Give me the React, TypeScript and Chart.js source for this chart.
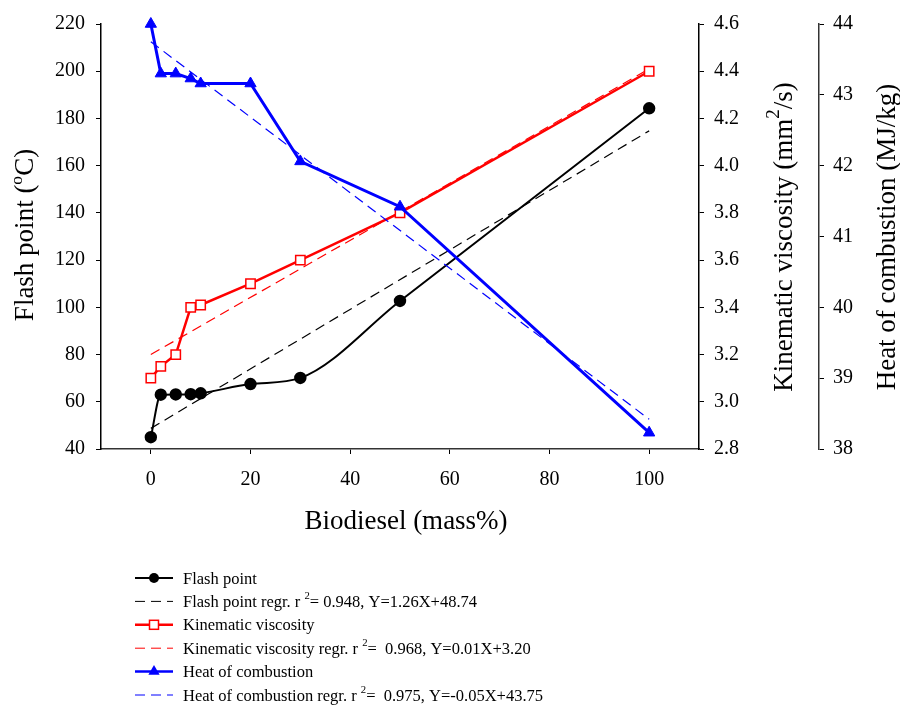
import React, { useEffect, useRef } from 'react';
import { Chart, registerables } from 'chart.js';

Chart.register(...registerables);

// ---- data ----
const blendPct = [0, 2, 5, 8, 10, 20, 30, 50, 100];
const flashPoint = [45, 63, 63.1, 63.2, 63.6, 67.5, 70.1, 102.7, 184.3];
const kinViscosity = [3.1, 3.15, 3.2, 3.4, 3.41, 3.5, 3.6, 3.8, 4.4];
const heatCombustion = [44.0, 43.3, 43.3, 43.23, 43.16, 43.16, 42.06, 41.42, 38.23];

const regrX = [0, 100];
const flashRegr = [48.74, 174.74];
const viscRegr = [3.2, 4.41];
const heatRegr = [43.75, 38.42];

const xTicks = [0, 20, 40, 60, 80, 100];

type Seg = { t: string; sup?: boolean };

const xTitle: Seg[] = [{ t: 'Biodiesel (mass%)' }];
const flashTitle: Seg[] = [{ t: 'Flash point (' }, { t: 'o', sup: true }, { t: 'C)' }];
const viscTitle: Seg[] = [{ t: 'Kinematic viscosity (mm' }, { t: '2', sup: true }, { t: '/s)' }];
const heatTitle: Seg[] = [{ t: 'Heat of combustion (MJ/kg)' }];

const legendLabels: Seg[][] = [
  [{ t: 'Flash point' }],
  [{ t: 'Flash point regr. r ' }, { t: '2', sup: true }, { t: '= 0.948, Y=1.26X+48.74' }],
  [{ t: 'Kinematic viscosity' }],
  [{ t: 'Kinematic viscosity regr. r ' }, { t: '2', sup: true }, { t: '=  0.968, Y=0.01X+3.20' }],
  [{ t: 'Heat of combustion' }],
  [{ t: 'Heat of combustion regr. r ' }, { t: '2', sup: true }, { t: '=  0.975, Y=-0.05X+43.75' }],
];

const SERIF = '"Liberation Serif", "Times New Roman", serif';

function pts(xs: number[], ys: number[]) {
  return xs.map((x, i) => ({ x, y: ys[i] }));
}

function drawRich(
  ctx: CanvasRenderingContext2D,
  segs: Seg[],
  x: number,
  y: number,
  angle: number,
  size: number,
  align: 'center' | 'left',
  supScale = 0.65,
  supRaise = 0.42
) {
  ctx.save();
  ctx.translate(x, y);
  ctx.rotate(angle);
  ctx.fillStyle = '#000';
  ctx.textBaseline = 'alphabetic';
  ctx.textAlign = 'left';
  const fontFor = (s: Seg) => `${s.sup ? size * supScale : size}px ${SERIF}`;
  let total = 0;
  for (const s of segs) {
    ctx.font = fontFor(s);
    total += ctx.measureText(s.t).width;
  }
  let cx = align === 'center' ? -total / 2 : 0;
  for (const s of segs) {
    ctx.font = fontFor(s);
    ctx.fillText(s.t, cx, s.sup ? -size * supRaise : 0);
    cx += ctx.measureText(s.t).width;
  }
  ctx.restore();
}

type LegendSym = { color: string; dashed: boolean; marker?: 'circle' | 'rect' | 'triangle'; width: number };
const legendSyms: LegendSym[] = [
  { color: '#000000', dashed: false, marker: 'circle', width: 2 },
  { color: '#000000', dashed: true, width: 1 },
  { color: '#ff0000', dashed: false, marker: 'rect', width: 2.5 },
  { color: '#ff0000', dashed: true, width: 1 },
  { color: '#0000ff', dashed: false, marker: 'triangle', width: 2.5 },
  { color: '#0000ff', dashed: true, width: 1 },
];

const textPlugin = {
  id: 'customText',
  afterDraw(chart: any) {
    const ctx: CanvasRenderingContext2D = chart.ctx;
    // axis titles
    drawRich(ctx, xTitle, 406, 529, 0, 27, 'center');
    drawRich(ctx, flashTitle, 33, 235, -Math.PI / 2, 27, 'center');
    drawRich(ctx, viscTitle, 792, 237, -Math.PI / 2, 27, 'center', 0.7, 0.5);
    drawRich(ctx, heatTitle, 895, 237, -Math.PI / 2, 27, 'center');

    // legend
    const x0 = 135;
    const x1 = 173;
    const mx = 154;
    const textX = 183;
    legendLabels.forEach((segs, i) => {
      const y = 578 + i * 23.4;
      const sym = legendSyms[i];
      ctx.save();
      ctx.strokeStyle = sym.color;
      ctx.lineWidth = sym.width;
      ctx.setLineDash(sym.dashed ? [10, 6] : []);
      ctx.beginPath();
      ctx.moveTo(x0, y);
      ctx.lineTo(x1, y);
      ctx.stroke();
      ctx.setLineDash([]);
      if (sym.marker === 'circle') {
        ctx.fillStyle = sym.color;
        ctx.beginPath();
        ctx.arc(mx, y, 5, 0, Math.PI * 2);
        ctx.fill();
      } else if (sym.marker === 'rect') {
        ctx.fillStyle = '#fff';
        ctx.lineWidth = 1.5;
        ctx.fillRect(mx - 4.5, y - 4.5, 9, 9);
        ctx.strokeRect(mx - 4.5, y - 4.5, 9, 9);
      } else if (sym.marker === 'triangle') {
        ctx.fillStyle = sym.color;
        const r = 6.5;
        ctx.beginPath();
        ctx.moveTo(mx, y - r);
        ctx.lineTo(mx + r * 0.866, y + r * 0.5);
        ctx.lineTo(mx - r * 0.866, y + r * 0.5);
        ctx.closePath();
        ctx.fill();
      }
      ctx.restore();
      drawRich(ctx, segs, textX, y + 5.5, 0, 16.5, 'left', 0.65, 0.45);
    });
  },
};

export default function App() {
  const ref = useRef<HTMLCanvasElement | null>(null);

  useEffect(() => {
    if (!ref.current) return;
    const tickFont = { family: SERIF, size: 20 };
    const axisGrid = { display: true, drawOnChartArea: false, drawTicks: true, tickLength: 5, color: '#000', lineWidth: 1 };
    const chart = new Chart(ref.current, {
      type: 'line',
      data: {
        datasets: [
          {
            label: 'Heat of combustion',
            data: pts(blendPct, heatCombustion),
            yAxisID: 'yHeat',
            borderColor: '#0000ff',
            backgroundColor: '#0000ff',
            borderWidth: 3,
            pointStyle: 'triangle',
            pointRadius: 6.5,
            pointBackgroundColor: '#0000ff',
            pointBorderColor: '#0000ff',
            pointBorderWidth: 1,
            tension: 0,
            order: 0,
            clip: false,
          },
          {
            label: 'Heat of combustion regr.',
            data: pts(regrX, heatRegr),
            yAxisID: 'yHeat',
            borderColor: '#0000ff',
            borderWidth: 1.2,
            borderDash: [10, 6],
            pointRadius: 0,
            order: 1,
            clip: false,
          },
          {
            label: 'Kinematic viscosity',
            data: pts(blendPct, kinViscosity),
            yAxisID: 'yVisc',
            borderColor: '#ff0000',
            backgroundColor: '#ffffff',
            borderWidth: 2.5,
            pointStyle: 'rect',
            pointRadius: 6.6,
            pointBackgroundColor: '#ffffff',
            pointBorderColor: '#ff0000',
            pointBorderWidth: 1.5,
            tension: 0,
            order: 2,
            clip: false,
          },
          {
            label: 'Kinematic viscosity regr.',
            data: pts(regrX, viscRegr),
            yAxisID: 'yVisc',
            borderColor: '#ff0000',
            borderWidth: 1.2,
            borderDash: [10, 6],
            pointRadius: 0,
            order: 3,
            clip: false,
          },
          {
            label: 'Flash point',
            data: pts(blendPct, flashPoint),
            yAxisID: 'y',
            borderColor: '#000000',
            backgroundColor: '#000000',
            borderWidth: 2,
            pointStyle: 'circle',
            pointRadius: 5.2,
            pointBackgroundColor: '#000000',
            pointBorderColor: '#000000',
            cubicInterpolationMode: 'monotone',
            order: 4,
            clip: false,
          },
          {
            label: 'Flash point regr.',
            data: pts(regrX, flashRegr),
            yAxisID: 'y',
            borderColor: '#000000',
            borderWidth: 1.2,
            borderDash: [10, 6],
            pointRadius: 0,
            order: 5,
            clip: false,
          },
        ] as any,
      },
      options: {
        responsive: false,
        animation: false,
        events: [],
        layout: { padding: { top: 24, left: 0, right: 0, bottom: 0 } },
        plugins: { legend: { display: false }, tooltip: { enabled: false }, title: { display: false } },
        scales: {
          x: {
            type: 'linear',
            min: -10,
            max: 110,
            afterBuildTicks: (s: any) => {
              s.ticks = xTicks.map((v) => ({ value: v }));
            },
            afterFit: (s: any) => {
              s.height = 256;
            },
            grid: axisGrid,
            border: { display: true, color: '#333', width: 1.5 },
            ticks: { font: tickFont, color: '#000', padding: 14, maxRotation: 0, autoSkip: false },
          },
          y: {
            type: 'linear',
            position: 'left',
            min: 40,
            max: 220,
            afterFit: (s: any) => {
              s.width = 101;
            },
            grid: axisGrid,
            border: { display: true, color: '#000', width: 1.5 },
            ticks: { font: tickFont, color: '#000', stepSize: 20, padding: 11 },
          },
          yVisc: {
            type: 'linear',
            position: 'right',
            weight: 0,
            min: 2.8,
            max: 4.6,
            afterFit: (s: any) => {
              s.width = 120;
            },
            grid: axisGrid,
            border: { display: true, color: '#000', width: 1.5 },
            ticks: {
              font: tickFont,
              color: '#000',
              stepSize: 0.2,
              padding: 10,
              callback: (v: any) => Number(v).toFixed(1),
            },
          },
          yHeat: {
            type: 'linear',
            position: 'right',
            weight: 1,
            min: 38,
            max: 44,
            afterFit: (s: any) => {
              s.width = 81;
            },
            grid: axisGrid,
            border: { display: true, color: '#333', width: 1.5 },
            ticks: { font: tickFont, color: '#000', stepSize: 1, padding: 9 },
          },
        },
      } as any,
      plugins: [textPlugin],
    });
    return () => chart.destroy();
  }, []);

  return (
    <div style={{ position: 'fixed', left: 0, top: 0, width: 900, height: 705, background: '#fff' }}>
      <canvas ref={ref} width={900} height={705} style={{ display: 'block' }} />
    </div>
  );
}
